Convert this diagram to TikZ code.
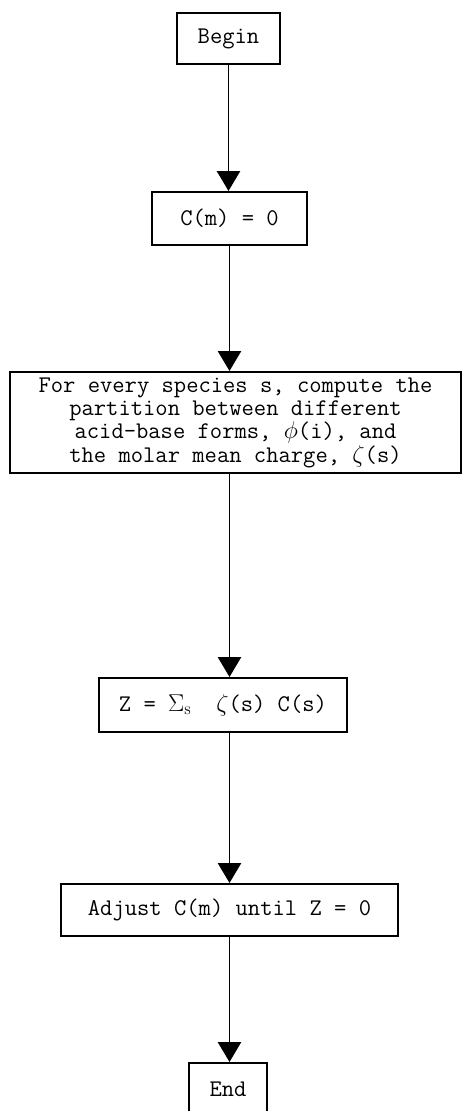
\documentclass[tikz,border=0pt]{standalone}
\usepackage{tikz}
\usetikzlibrary{arrows.meta, positioning}
\usepackage{amsmath}

\begin{document}
\begin{tikzpicture}[
    x=0.025cm, y=-0.025cm,
    box/.style={
        draw, line width=1.4pt, inner sep=0pt, align=center,
        minimum width=#1, font=\fontsize{17}{16.6}\selectfont\ttfamily
    },
    arr/.style={-{Triangle[length=0.5cm, width=0.58cm]}, line width=1.4pt}
]
\useasboundingbox (0,0) rectangle (462,1111);

% Steps
\node[box=2.575cm, minimum height=1.275cm] (begin) at (228.5, 38.5) {Begin};
\node[box=3.875cm, minimum height=1.325cm] (cm) at (229.5, 218.5) {C(m) = 0};
\node[box=11.275cm, minimum height=2.525cm] (calc) at (235.5, 422.5)
    {For every species s, compute the\\
     partition between different\\
     acid{-}base forms, $\phi$(i), and\\
     the molar mean charge, $\zeta$(s)};
\node[box=6.2cm, minimum height=1.35cm] (sum) at (223, 705)
    {Z = $\Sigma_{\mathrm{s}}$\ \ $\zeta$(s) C(s)};
\node[box=8.425cm, minimum height=1.3cm] (adjust) at (229.5, 910) {Adjust C(m) until Z = 0};
\node[box=1.95cm, minimum height=1.3cm] (end) at (228, 1089) {End};

% Arrows
\draw[arr] (begin.south) -- (begin.south |- cm.north);
\draw[arr] (cm.south) -- (cm.south |- calc.north);
\draw[arr] (calc.south -| cm.south) -- (sum.north -| cm.south);
\draw[arr] (sum.south -| cm.south) -- (adjust.north -| cm.south);
\draw[arr] (adjust.south -| cm.south) -- (end.north -| cm.south);

\end{tikzpicture}
\end{document}
